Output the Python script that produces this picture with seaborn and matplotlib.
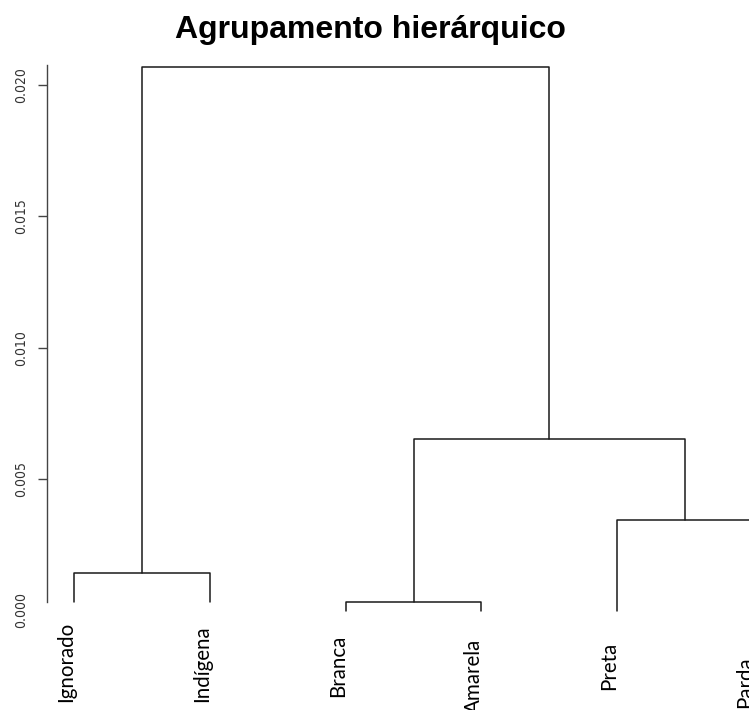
import matplotlib
matplotlib.use("Agg")
import matplotlib.pyplot as plt
import seaborn as sns
import pandas as pd

# Leaves in display order and the merge tree (R-style: nodes 0-5 are leaves,
# each merge creates the next node id)
labels = ["Ignorado", "Indígena", "Branca", "Amarela", "Preta", "Parda"]
leaf_base = [0.00032, 0.00032, 0.0, 0.0, 0.0, 0.0]
merge_left = [0, 2, 4, 7, 6]
merge_right = [1, 3, 5, 8, 9]
merge_height = [0.00143, 0.00032, 0.00345, 0.00653, 0.02070]
yticks = [0.000, 0.005, 0.010, 0.015, 0.020]

# Vertical start of each leaf label below the plot (points)
label_drop = [66, 66, 62, 74, 57, 70]

W, H = 749, 710
sns.set_style("white")
fig = plt.figure(figsize=(W / 100, H / 100), dpi=100)

ax_left, ax_top, ax_bottom = 46.7, 65.0, 610.5
ax = fig.add_axes([ax_left / W, (H - ax_bottom) / H,
                   (W - ax_left) / W, (ax_bottom - ax_top) / H])

# x and top height of every node
node_x = {i: float(i) for i in range(len(labels))}
node_h = {i: leaf_base[i] for i in range(len(labels))}
rows = []
for k, (a, b, h) in enumerate(zip(merge_left, merge_right, merge_height)):
    nid = len(labels) + k
    path = [(node_x[a], node_h[a]), (node_x[a], h),
            (node_x[b], h), (node_x[b], node_h[b])]
    for order, (px, py) in enumerate(path):
        rows.append({"merge": k, "order": order, "x": px, "y": py})
    node_x[nid] = (node_x[a] + node_x[b]) / 2
    node_h[nid] = h
seg = pd.DataFrame(rows)

sns.lineplot(data=seg, x="x", y="y", units="merge", estimator=None,
             sort=False, color="#1a1a1a", linewidth=1.1, ax=ax,
             legend=False, clip_on=False)

ax.set_xlim(-0.201, 4.970)
ax.set_ylim(0, (ax_bottom - ax_top) * 3.807e-5)
ax.set_xlabel("")
ax.set_ylabel("")
ax.set_xticks([])
sns.despine(ax=ax, top=True, right=True, bottom=True)
ax.spines["left"].set_bounds(leaf_base[0], ax.get_ylim()[1])
ax.spines["left"].set_color("#444444")
ax.spines["left"].set_linewidth(1.0)

ax.set_yticks(yticks)
ax.set_yticklabels([f"{t:.3f}" for t in yticks], rotation=90, va="center",
                   family=["Liberation Sans Narrow", "DejaVu Sans"],
                   stretch="condensed", fontsize=10, color="#333333")
ax.tick_params(axis="y", direction="out", length=6.2, width=1.0,
               color="#444444", pad=7, left=True)
ax.yaxis.get_major_ticks()[0].tick1line.set_visible(False)

# Leaf labels, rotated, hanging below each leaf
for i, name in enumerate(labels):
    xd = ax.transData.transform((i, 0))[0]
    fig.text(xd / W + 2 / W, (H - ax_bottom - label_drop[i] * 100 / 72) / H,
             name, rotation=90, ha="right", va="bottom",
             family=["Lato", "DejaVu Sans"], fontsize=14.8, color="black")

fig.text(370.5 / W, (H - 38) / H, "Agrupamento hierárquico",
         ha="center", va="baseline", fontsize=23, fontweight="bold",
         color="black", family=["Liberation Sans", "DejaVu Sans"])

fig.savefig("out.png", dpi=100, facecolor="white")
